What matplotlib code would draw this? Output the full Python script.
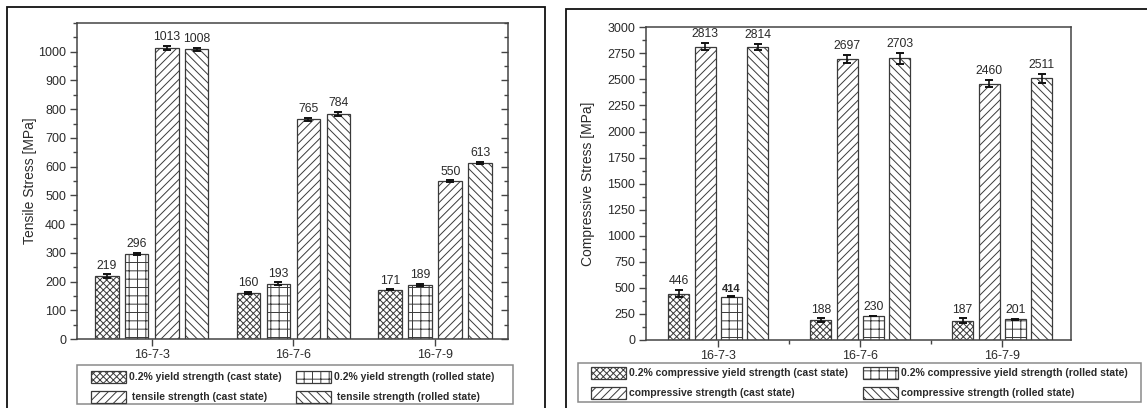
import matplotlib
matplotlib.use("Agg")
import matplotlib.pyplot as plt
import matplotlib.lines as mlines
import numpy as np
from matplotlib.patches import Rectangle
from matplotlib.ticker import MultipleLocator, FixedLocator, NullLocator

plt.rcParams['font.family'] = ['Liberation Sans', 'DejaVu Sans']
plt.rcParams['hatch.linewidth'] = 0.7

# ---------------- data ----------------
groups = ['16-7-3', '16-7-6', '16-7-9']

tensile_yield_cast = [219, 160, 171]
tensile_yield_cast_err = [6, 3, 2]
tensile_yield_rolled = [296, 193, 189]
tensile_yield_rolled_err = [3, 4, 4]
tensile_cast = [1013, 765, 550]
tensile_cast_err = [6, 5, 2]
tensile_rolled = [1008, 784, 613]
tensile_rolled_err = [6, 6, 3]

comp_yield_cast = [446, 188, 187]
comp_yield_cast_err = [35, 20, 20]
comp_cast = [2813, 2697, 2460]
comp_cast_err = [35, 40, 35]
comp_yield_rolled = [414, 230, 201]
comp_yield_rolled_err = [4, 4, 5]
comp_rolled = [2814, 2703, 2511]
comp_rolled_err = [30, 55, 45]

left_labels = ['0.2% yield strength (cast state)', '0.2% yield strength (rolled state)',
               ' tensile strength (cast state)', ' tensile strength (rolled state)']
right_labels = ['0.2% compressive yield strength (cast state)',
                '0.2% compressive yield strength (rolled state)',
                'compressive strength (cast state)', 'compressive strength (rolled state)']

# ---------------- style ----------------
EDGE = '#3a3a3a'
TXT = '#2a2a2a'
H_CROSS = 'xxxxx'
H_GRID = '++'
H_FWD = '////'
H_BACK = '\\\\\\\\'
FS_TICK = 9.0
FS_VAL = 8.8
FS_LAB = 10.0
FS_LEG = 7.5
W, H = 1147, 408

fig = plt.figure(figsize=(W / 100, H / 100), dpi=100)


def fx(px):
    return px / W


def fy(py):
    return 1 - py / H


# outer frames
fig.add_artist(Rectangle((fx(7), -0.05), fx(544.5 - 7), 1 - 7 / H + 0.05,
                         transform=fig.transFigure, fill=False, edgecolor='#111111', lw=1.3))
fig.add_artist(Rectangle((fx(566), -0.05), 0.6, 1 - 9 / H + 0.05,
                         transform=fig.transFigure, fill=False, edgecolor='#111111', lw=1.3))

axL = fig.add_axes([fx(76.5), fy(339), fx(507.5 - 76.5), (339 - 23) / H])
axR = fig.add_axes([fx(645.5), fy(340), fx(1071 - 645.5), (340 - 27.3) / H])

x = np.arange(1, len(groups) + 1)


def draw(ax, series, offsets, width, fmt_bold=None):
    handles = []
    for (vals, errs, hatch, label), off in zip(series, offsets):
        b = ax.bar(x + off, vals, width, facecolor='white', edgecolor=EDGE,
                   hatch=hatch, linewidth=0.9, label=label, zorder=2)
        ax.errorbar(x + off, vals, yerr=errs, fmt='none', ecolor='#111111',
                    elinewidth=1.2, capsize=3, capthick=1.4, zorder=3)
        for xi, v, e in zip(x + off, vals, errs):
            bold = fmt_bold is not None and v == fmt_bold
            ax.annotate(str(v), (xi, v + e), xytext=(0, 2), textcoords='offset points',
                        ha='center', va='bottom', fontsize=8.0 if bold else FS_VAL,
                        fontweight='bold' if bold else 'normal', color=TXT)
        handles.append(b)
    return handles


hL = draw(axL, [(tensile_yield_cast, tensile_yield_cast_err, H_CROSS, left_labels[0]),
                (tensile_yield_rolled, tensile_yield_rolled_err, H_GRID, left_labels[1]),
                (tensile_cast, tensile_cast_err, H_FWD, left_labels[2]),
                (tensile_rolled, tensile_rolled_err, H_BACK, left_labels[3])],
          [-0.317, -0.106, 0.106, 0.317], 0.167)

hR = draw(axR, [(comp_yield_cast, comp_yield_cast_err, H_CROSS, right_labels[0]),
                (comp_cast, comp_cast_err, H_FWD, right_labels[2]),
                (comp_yield_rolled, comp_yield_rolled_err, H_GRID, right_labels[1]),
                (comp_rolled, comp_rolled_err, H_BACK, right_labels[3])],
          [-0.278, -0.091, 0.092, 0.279], 0.148, fmt_bold=414)

# axes formatting
axL.set_xlim(0.47, 3.51)
axL.set_ylim(0, 1100)
axL.yaxis.set_major_locator(FixedLocator(np.arange(0, 1001, 100)))
axL.yaxis.set_minor_locator(MultipleLocator(50))
axL.set_ylabel('Tensile Stress [MPa]', fontsize=FS_LAB, color=TXT, labelpad=1)

axR.set_xlim(0.487, 3.485)
axR.set_ylim(0, 3000)
axR.yaxis.set_major_locator(MultipleLocator(250))
axR.yaxis.set_minor_locator(MultipleLocator(125))
axR.set_ylabel('Compressive Stress [MPa]', fontsize=FS_LAB, color=TXT, labelpad=9)

for ax in (axL, axR):
    ax.set_xticks(x)
    ax.set_xticklabels(groups)
    for s in ax.spines.values():
        s.set_color('#444444')
        s.set_linewidth(1.1)
    ax.tick_params(axis='both', which='major', direction='out', length=5, width=1,
                   color='#444444', labelsize=FS_TICK, labelcolor=TXT, pad=2.5)
    ax.tick_params(axis='both', which='minor', direction='out', length=3, width=1,
                   color='#444444')

axL.xaxis.set_minor_locator(NullLocator())
axR.xaxis.set_minor_locator(FixedLocator([1.5, 2.5]))

axL.tick_params(axis='y', which='both', right=True, labelright=False)
# right-side ticks pointing inward for the left panel
for t in axL.yaxis.get_major_ticks() + axL.yaxis.get_minor_ticks():
    t.tick2line.set_marker(mlines.TICKLEFT)

# legends: frameless legend content + hand-drawn box
legkw = dict(ncol=2, prop={'weight': 'bold', 'size': FS_LEG},
             handlelength=3.4, handleheight=1.35, handletextpad=0.25,
             labelspacing=0.8, borderpad=0.0, borderaxespad=0.0,
             frameon=False, loc='upper left')
legL = fig.legend([hL[0], hL[2], hL[1], hL[3]],
                  [left_labels[0], left_labels[2], left_labels[1], left_labels[3]],
                  bbox_to_anchor=(fx(91), fy(371)), columnspacing=1.35, **legkw)
legR = fig.legend([hR[0], hR[1], hR[2], hR[3]],
                  [right_labels[0], right_labels[2], right_labels[1], right_labels[3]],
                  bbox_to_anchor=(fx(591), fy(367)), columnspacing=1.4, **legkw)
for leg in (legL, legR):
    for t in leg.get_texts():
        t.set_color(TXT)

fig.add_artist(Rectangle((fx(76.7), fy(404)), fx(513 - 76.7), (404 - 365) / H,
                         transform=fig.transFigure, fill=False, edgecolor='#8a8a8a', lw=1.1))
fig.add_artist(Rectangle((fx(577.7), fy(401.7)), fx(1140.7 - 577.7), (401.7 - 363.3) / H,
                         transform=fig.transFigure, fill=False, edgecolor='#8a8a8a', lw=1.1))

fig.savefig('out.png', dpi=100)
